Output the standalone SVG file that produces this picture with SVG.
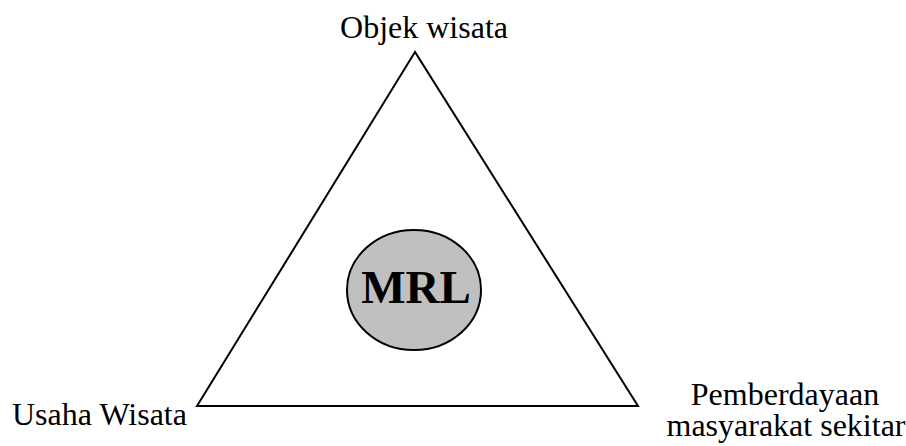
<svg xmlns="http://www.w3.org/2000/svg" width="906" height="446" viewBox="0 0 906 446">
<style>
text{font-family:"Liberation Serif","Times New Roman",serif;fill:#000}
.lbl{font-size:32px}
</style>
<rect width="906" height="446" fill="#fff"/>
<g id="connectors">
<polygon points="415,52 197,406 638,406" fill="none" stroke="#000" stroke-width="2"/>
</g>
<g id="node-mrl">
<ellipse cx="414" cy="290" rx="67" ry="60" fill="#c0c0c0" stroke="#000" stroke-width="2"/>
<text x="416" y="303" text-anchor="middle" font-size="47" font-weight="bold">MRL</text>
</g>
<g id="node-objek"><text class="lbl" x="424" y="38" text-anchor="middle">Objek wisata</text></g>
<g id="node-usaha"><text class="lbl" x="12" y="425">Usaha Wisata</text></g>
<g id="node-pemberdayaan">
<text class="lbl" x="785" y="405" text-anchor="middle">Pemberdayaan</text>
<text class="lbl" x="786" y="436" text-anchor="middle">masyarakat sekitar</text>
</g>
</svg>
